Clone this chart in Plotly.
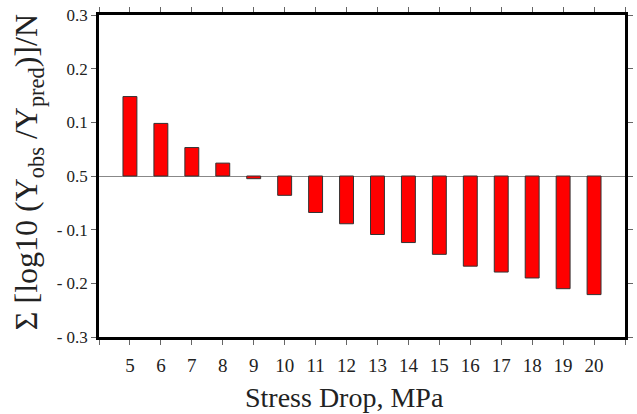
import plotly.graph_objects as go

stress_drop = [5, 6, 7, 8, 9, 10, 11, 12, 13, 14, 15, 16, 17, 18, 19, 20]
residual = [0.148, 0.098, 0.053, 0.024, -0.005, -0.036, -0.068, -0.089, -0.109,
            -0.124, -0.146, -0.168, -0.179, -0.190, -0.210, -0.221]
x_tickvals = stress_drop
x_ticktext = [str(v) for v in stress_drop]
y_tickvals = [0.3, 0.2, 0.1, 0.0, -0.1, -0.2, -0.3]
y_ticktext = ["0.3", "0.2", "0.1", "0.5", "- 0.1", "- 0.2", "- 0.3"]
x_title = "Stress Drop, MPa"
y_title = "Σ [log10 (Y<sub>obs</sub> /Y<sub>pred</sub>)]/N"

font = "Liberation Serif"
txt = "#222222"

fig = go.Figure(go.Bar(
    x=stress_drop, y=residual, width=0.45,
    marker=dict(color="#ff0000", line=dict(color="#333333", width=1)),
))

fig.update_layout(
    width=637, height=414,
    margin=dict(l=99, r=4, t=15, b=77),
    plot_bgcolor="white", paper_bgcolor="white",
    showlegend=False,
    font=dict(family=font, color=txt),
    annotations=[
        dict(text=x_title, xref="paper", yref="paper", x=0.466, y=-0.189,
             xanchor="center", yanchor="middle", showarrow=False,
             font=dict(family=font, size=28, color=txt)),
        dict(text=y_title, xref="paper", yref="paper", x=-0.135, y=0.512,
             xanchor="center", yanchor="middle", showarrow=False, textangle=-90,
             font=dict(family=font, size=32, color=txt)),
    ],
)
fig.update_xaxes(
    range=[4, 21], tickmode="array", tickvals=x_tickvals, ticktext=x_ticktext,
    ticks="outside", ticklen=5, tickwidth=1, tickcolor="#666666",
    minor=dict(ticks="outside", ticklen=5, tickwidth=1, tickcolor="#666666",
               tickmode="linear", tick0=0, dtick=1, showgrid=False),
    showline=True, linewidth=2.5, linecolor="black", mirror="allticks",
    showgrid=False, zeroline=False, ticklabelstandoff=4,
    tickfont=dict(family=font, size=19, color=txt),
)
fig.update_yaxes(
    range=[-0.3, 0.3], tickmode="array", tickvals=y_tickvals, ticktext=y_ticktext,
    ticks="outside", ticklen=5, tickwidth=1, tickcolor="#666666",
    showline=True, linewidth=2.5, linecolor="black", mirror="allticks",
    showgrid=False, zeroline=True, zerolinecolor="#888888", zerolinewidth=1,
    tickfont=dict(family=font, size=17, color=txt),
)

fig.write_html("out.html")
